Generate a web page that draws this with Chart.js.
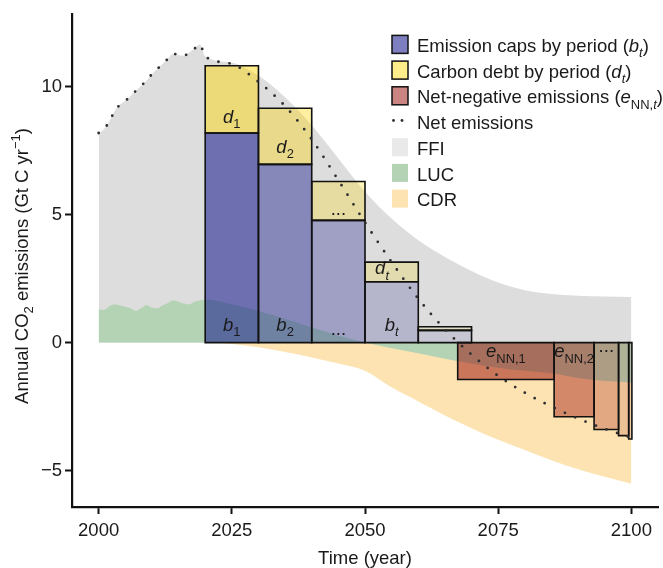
<!DOCTYPE html>
<html>
<head>
<meta charset="utf-8">
<script src="https://cdn.jsdelivr.net/npm/chart.js@4.4.1/dist/chart.umd.min.js"></script>
<style>
  html, body { margin: 0; padding: 0; background: #fff; }
  canvas { display: block; }
</style>
</head>
<body>
<canvas id="chart" width="663" height="568"></canvas>
<script>
// ---- Emission pathway (Gt C per year) ----
const years = [2000, 2001, 2002, 2003, 2004, 2005, 2006, 2007, 2008, 2009, 2010,
  2011, 2012, 2013, 2014, 2015, 2016, 2017, 2018, 2019, 2020,
  2025, 2030, 2035, 2040, 2045, 2050, 2055, 2060, 2065, 2070, 2075, 2080, 2085, 2090, 2095, 2100];

// upper edge of the FFI area (fossil fuel and industry plus positive land use)
const grossEmissions = [8.2, 8.35, 8.65, 9.05, 9.3, 9.45, 9.65, 9.85, 10.05, 10.25, 10.5,
  10.7, 10.9, 11.1, 11.3, 11.25, 11.22, 11.35, 11.5, 11.66, 11.2,
  10.95, 10.45, 9.6, 8.5, 7.2, 5.9, 4.85, 4.0, 3.35, 2.8, 2.35, 2.05, 1.9, 1.83, 1.8, 1.78];

// land-use change emissions
const lucEmissions = [1.30, 1.28, 1.42, 1.50, 1.45, 1.40, 1.34, 1.24, 1.35, 1.47, 1.36,
  1.34, 1.45, 1.55, 1.65, 1.60, 1.52, 1.50, 1.60, 1.65, 1.69,
  1.50, 1.24, 0.93, 0.59, 0.28, 0.0, -0.22, -0.42, -0.63, -0.82, -0.98, -1.10, -1.20, -1.38, -1.50, -1.56];

// lower edge of the carbon dioxide removal area
const cdrLower = [0, 0, 0, 0, 0, 0, 0, 0, 0, 0, 0,
  0, 0, 0, 0, 0, 0, 0, 0, 0, 0,
  -0.05, -0.18, -0.37, -0.58, -0.82, -1.1, -1.75, -2.3, -2.85, -3.35, -3.8, -4.2, -4.6, -4.95, -5.25, -5.52];

// net emissions
const netEmissions = [8.2, 8.35, 8.65, 9.05, 9.3, 9.45, 9.65, 9.85, 10.05, 10.25, 10.5,
  10.7, 10.9, 11.1, 11.3, 11.25, 11.22, 11.35, 11.5, 11.66, 11.2,
  10.9, 10.2, 9.25, 7.95, 6.35, 4.7, 3.15, 1.72, 0.52, -0.47, -1.3, -1.96, -2.5, -2.97, -3.37, -3.72];

// ---- Budget periods ----
const periodStart = [2020, 2030, 2040, 2050, 2060];
const periodEnd = [2030, 2040, 2050, 2060, 2070];
const emissionCaps = [8.2, 6.97, 4.78, 2.38, 0.48];   // b_t
const carbonDebt = [2.63, 2.2, 1.52, 0.77, 0.14];     // d_t (stacked on b_t)

// ---- Net-negative periods ----
const nnStart = [2067.4, 2085.5, 2093.0, 2097.6, 2099.5];
const nnEnd = [2085.5, 2093.0, 2097.6, 2099.5, 2100.1];
const netNegative = [-1.44, -2.90, -3.40, -3.64, -3.77]; // e_NN,t

// ---- Axis ticks ----
const xTicks = [2000, 2025, 2050, 2075, 2100];
const yTicks = [-5, 0, 5, 10];

// ---- Styling ----
const FONT = '"Liberation Sans", Arial, Helvetica, sans-serif';
const FS = 18.5;
const INK = '#1a1a1a';
const capAlpha = [0.52, 0.40, 0.29, 0.19, 0.10];
const debtAlpha = [0.46, 0.37, 0.27, 0.20, 0.12];
const nnAlpha = [0.50, 0.42, 0.27, 0.16, 0.10];
const blue = a => `rgba(8,10,135,${a})`;
const gold = a => `rgba(255,213,0,${a})`;
const red = a => `rgba(150,10,5,${a})`;

const pts = (xs, ys) => xs.map((x, i) => ({ x, y: ys[i] }));

const datasets = [];

// net emissions as a dotted line on top
datasets.push({
  data: pts(years, netEmissions),
  borderColor: '#2e2e2e', borderWidth: 2.8, borderDash: [0, 11.2], borderCapStyle: 'round',
  fill: false, cubicInterpolationMode: 'monotone', pointRadius: 0, order: 0
});

const outline = (x0, x1, y0, y1) => ({
  data: [{ x: x0, y: y0 }, { x: x0, y: y1 }, { x: x1, y: y1 }, { x: x1, y: y0 }, { x: x0, y: y0 }],
  borderColor: '#111', borderWidth: 1.6, borderJoinStyle: 'miter', borderCapStyle: 'square',
  fill: false, pointRadius: 0, order: 1
});

// emission caps and carbon debt blocks
periodStart.forEach((s, i) => {
  const e = periodEnd[i];
  const b = emissionCaps[i];
  const top = b + carbonDebt[i];
  datasets.push(outline(s, e, 0, b));
  datasets.push(outline(s, e, b, top));
  datasets.push({
    data: [{ x: s, y: b }, { x: e, y: b }], borderWidth: 0, borderColor: 'transparent',
    backgroundColor: blue(capAlpha[i]), fill: 'origin', pointRadius: 0, order: 2
  });
  datasets.push({
    data: [{ x: s, y: top }, { x: e, y: top }], borderWidth: 0, borderColor: 'transparent',
    backgroundColor: gold(debtAlpha[i]), fill: { value: b }, pointRadius: 0, order: 2
  });
});

// net-negative blocks
nnStart.forEach((s, i) => {
  const e = nnEnd[i];
  datasets.push(outline(s, e, netNegative[i], 0));
  datasets.push({
    data: [{ x: s, y: netNegative[i] }, { x: e, y: netNegative[i] }], borderWidth: 0, borderColor: 'transparent',
    backgroundColor: red(nnAlpha[i]), fill: 'origin', pointRadius: 0, order: 2
  });
});

// stacked emission components
datasets.push({
  data: pts(years, lucEmissions), borderWidth: 0, borderColor: 'transparent',
  backgroundColor: '#b4d3b4', fill: 'origin', cubicInterpolationMode: 'monotone', pointRadius: 0, order: 3
});
datasets.push({
  data: pts(years, cdrLower), borderWidth: 0, borderColor: 'transparent',
  backgroundColor: '#fde3b1', fill: 'origin', cubicInterpolationMode: 'monotone', pointRadius: 0, order: 4
});
datasets.push({
  data: pts(years, grossEmissions), borderWidth: 0, borderColor: 'transparent',
  backgroundColor: '#dddddd', fill: 'origin', cubicInterpolationMode: 'monotone', pointRadius: 0, order: 5
});

// ---- Rich text helper (italic, subscript, superscript runs) ----
function drawRuns(ctx, runs, x, y, size, align) {
  const fontOf = r => `${r.it ? 'italic ' : ''}${(r.sub || r.sup) ? size * 0.7 : size}px ${FONT}`;
  let w = 0;
  runs.forEach(r => { ctx.font = fontOf(r); w += ctx.measureText(r.t).width; });
  let cx = align === 'center' ? x - w / 2 : (align === 'right' ? x - w : x);
  runs.forEach(r => {
    ctx.font = fontOf(r);
    const dy = r.sub ? size * 0.28 : (r.sup ? -size * 0.4 : 0);
    ctx.fillText(r.t, cx, y + dy);
    cx += ctx.measureText(r.t).width;
  });
}
const T = t => ({ t });
const I = t => ({ t, it: true });
const S = (t, it) => ({ t, sub: true, it: !!it });
const P = t => ({ t, sup: true });

const mid = i => (periodStart[i] + periodEnd[i]) / 2;
const nnMid = i => (nnStart[i] + nnEnd[i]) / 2;

// in-plot annotations: [x, y (baseline), runs]
const annotations = [
  [mid(0), 8.58, [I('d'), S('1')]],
  [mid(1), 7.41, [I('d'), S('2')]],
  [mid(2), 5.0, [T('...')]],
  [2053.2, 2.67, [I('d'), S('t', true)]],
  [mid(0), 0.46, [I('b'), S('1')]],
  [mid(1), 0.46, [I('b'), S('2')]],
  [mid(2), 0.28, [T('...')]],
  [mid(3), 0.46, [I('b'), S('t', true)]],
  [nnMid(0), -0.58, [I('e'), S('NN,1')]],
  [nnMid(1), -0.58, [I('e'), S('NN,2')]],
  [nnMid(2), -0.38, [T('...')]]
];

const legendRows = [
  { kind: 'box', fill: blue(capAlpha[0]), runs: [T('Emission caps by period ('), I('b'), S('t', true), T(')')] },
  { kind: 'box', fill: gold(debtAlpha[0]), runs: [T('Carbon debt by period ('), I('d'), S('t', true), T(')')] },
  { kind: 'box', fill: red(nnAlpha[0]), runs: [T('Net-negative emissions ('), I('e'), S('NN,'), S('t', true), T(')')] },
  { kind: 'dots', runs: [T('Net emissions')] },
  { kind: 'patch', fill: '#e9e9e9', runs: [T('FFI')] },
  { kind: 'patch', fill: '#b4d3b4', runs: [T('LUC')] },
  { kind: 'patch', fill: '#fde3b1', runs: [T('CDR')] }
];

const textPlugin = {
  id: 'textLayer',
  afterDraw(chart) {
    const ctx = chart.ctx;
    const xs = chart.scales.x, ys = chart.scales.y;
    const area = chart.chartArea;
    ctx.save();
    ctx.fillStyle = INK;
    ctx.textBaseline = 'alphabetic';

    annotations.forEach(([x, y, runs]) => {
      drawRuns(ctx, runs, xs.getPixelForValue(x), ys.getPixelForValue(y), FS, 'center');
    });

    // legend
    const lx = area.left + 320, firstRow = area.top + 31.3, step = 25.7;
    legendRows.forEach((row, k) => {
      const cy = firstRow + k * step;
      if (row.kind === 'box' || row.kind === 'patch') {
        ctx.fillStyle = '#fff';
        ctx.fillRect(lx, cy - 10, 16, 18);
        ctx.fillStyle = row.fill;
        ctx.fillRect(lx, cy - 10, 16, 18);
        if (row.kind === 'box') {
          ctx.strokeStyle = '#111';
          ctx.lineWidth = 1.5;
          ctx.strokeRect(lx, cy - 10, 16, 18);
        }
      } else {
        ctx.fillStyle = '#2e2e2e';
        [lx + 1.5, lx + 10].forEach(dx => {
          ctx.beginPath();
          ctx.arc(dx, cy - 2, 1.4, 0, Math.PI * 2);
          ctx.fill();
        });
      }
      ctx.fillStyle = INK;
      drawRuns(ctx, row.runs, lx + 25, cy + 6.6, FS, 'left');
    });

    // axis titles
    drawRuns(ctx, [T('Time (year)')], (area.left + area.right) / 2, 564, FS, 'center');
    ctx.translate(27.5, 266);
    ctx.rotate(-Math.PI / 2);
    drawRuns(ctx, [T('Annual CO'), S('2'), T(' emissions (Gt C yr'), P('\u22121'), T(')')], 0, 0, FS, 'center');
    ctx.restore();
  }
};

const fmt = v => String(v).replace('-', '\u2212');

new Chart(document.getElementById('chart'), {
  type: 'line',
  data: { datasets },
  options: {
    responsive: false,
    animation: false,
    devicePixelRatio: 1,
    layout: { padding: { top: 12, right: 5, left: 0, bottom: 0 } },
    plugins: { legend: { display: false }, tooltip: { enabled: false } },
    elements: { point: { radius: 0 } },
    scales: {
      x: {
        type: 'linear', min: 1995, max: 2105,
        afterBuildTicks: s => { s.ticks = xTicks.map(v => ({ value: v })); },
        afterFit: s => { s.height = 61; },
        ticks: { color: INK, font: { family: FONT, size: FS }, padding: 6, callback: v => fmt(v), maxRotation: 0 },
        grid: { drawOnChartArea: false, drawTicks: true, tickLength: 7, tickWidth: 2, tickColor: '#111' },
        border: { display: true, color: '#111', width: 2.2 }
      },
      y: {
        type: 'linear', min: -6.43, max: 12.85,
        afterBuildTicks: s => { s.ticks = yTicks.map(v => ({ value: v })); },
        afterFit: s => { s.width = 72; },
        ticks: { color: INK, font: { family: FONT, size: FS }, padding: 3, callback: v => fmt(v) },
        grid: { drawOnChartArea: false, drawTicks: true, tickLength: 7, tickWidth: 2, tickColor: '#111' },
        border: { display: true, color: '#111', width: 2.2 }
      }
    }
  },
  plugins: [textPlugin]
});
</script>
</body>
</html>
